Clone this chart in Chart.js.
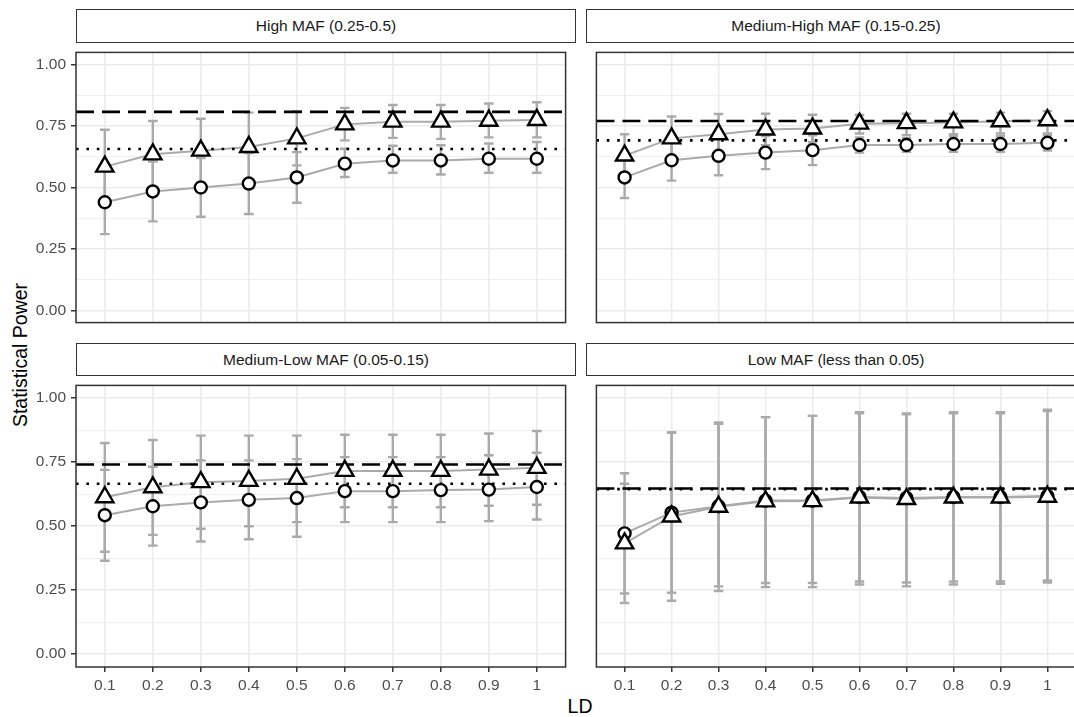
<!DOCTYPE html>
<html>
<head>
<meta charset="utf-8">
<script src="https://cdn.jsdelivr.net/npm/chart.js@4.4.1/dist/chart.umd.min.js"></script>
<style>
  body { margin: 0; width: 1074px; height: 717px; overflow: hidden; background: #fff;
         position: relative; font-family: "Liberation Sans", Arial, sans-serif; }
  canvas { position: absolute; }
  .strip { position: absolute; box-sizing: border-box; border: 1px solid #333; background: #fff;
           color: #1a1a1a; font-size: 15.5px; display: flex; align-items: center; justify-content: center; }
  .title { position: absolute; color: #000; font-size: 19.5px; white-space: nowrap; }
</style>
</head>
<body>
<div class="title" id="ytitle">Statistical Power</div>
<div class="title" id="xtitle">LD</div>
<script>
const ldLabels = ["0.1", "0.2", "0.3", "0.4", "0.5", "0.6", "0.7", "0.8", "0.9", "1"];
const yTicks = [0, 0.125, 0.25, 0.375, 0.5, 0.625, 0.75, 0.875, 1];

// High MAF (0.25-0.5)
const highTri      = [0.585, 0.635, 0.650, 0.665, 0.700, 0.757, 0.768, 0.768, 0.772, 0.775];
const highTriLow   = [0.435, 0.500, 0.520, 0.525, 0.590, 0.692, 0.702, 0.698, 0.704, 0.704];
const highTriHigh  = [0.735, 0.771, 0.780, 0.805, 0.811, 0.824, 0.836, 0.836, 0.842, 0.847];
const highCirc     = [0.440, 0.484, 0.500, 0.516, 0.541, 0.597, 0.610, 0.610, 0.617, 0.617];
const highCircLow  = [0.310, 0.362, 0.381, 0.392, 0.438, 0.543, 0.560, 0.553, 0.560, 0.560];
const highCircHigh = [0.570, 0.606, 0.620, 0.640, 0.644, 0.658, 0.670, 0.672, 0.679, 0.685];
const highRef = [0.808, 0.657]; // dashed, dotted

// Medium-High MAF (0.15-0.25)
const medHighTri      = [0.630, 0.700, 0.717, 0.736, 0.740, 0.760, 0.762, 0.765, 0.770, 0.774];
const medHighTriLow   = [0.543, 0.611, 0.635, 0.672, 0.684, 0.720, 0.713, 0.717, 0.720, 0.720];
const medHighTriHigh  = [0.717, 0.789, 0.799, 0.800, 0.796, 0.795, 0.800, 0.800, 0.805, 0.811];
const medHighCirc     = [0.541, 0.611, 0.629, 0.642, 0.652, 0.673, 0.673, 0.677, 0.677, 0.682];
const medHighCircLow  = [0.457, 0.528, 0.550, 0.575, 0.591, 0.642, 0.645, 0.645, 0.645, 0.650];
const medHighCircHigh = [0.625, 0.694, 0.708, 0.709, 0.713, 0.704, 0.701, 0.709, 0.709, 0.714];
const medHighRef = [0.771, 0.692];

// Medium-Low MAF (0.05-0.15)
const medLowTri      = [0.613, 0.652, 0.672, 0.677, 0.685, 0.716, 0.716, 0.716, 0.721, 0.728];
const medLowTriLow   = [0.400, 0.466, 0.490, 0.500, 0.516, 0.574, 0.574, 0.574, 0.580, 0.584];
const medLowTriHigh  = [0.825, 0.837, 0.854, 0.854, 0.854, 0.857, 0.857, 0.857, 0.862, 0.872];
const medLowCirc     = [0.543, 0.578, 0.593, 0.603, 0.610, 0.637, 0.637, 0.641, 0.643, 0.653];
const medLowCircLow  = [0.365, 0.424, 0.440, 0.449, 0.459, 0.516, 0.516, 0.516, 0.520, 0.526];
const medLowCircHigh = [0.720, 0.732, 0.757, 0.757, 0.762, 0.770, 0.770, 0.770, 0.777, 0.787];
const medLowRef = [0.741, 0.666];

// Low MAF (less than 0.05)
const lowTri      = [0.433, 0.538, 0.576, 0.597, 0.598, 0.612, 0.606, 0.612, 0.612, 0.615];
const lowTriLow   = [0.200, 0.209, 0.247, 0.262, 0.262, 0.272, 0.265, 0.272, 0.275, 0.280];
const lowTriHigh  = [0.666, 0.866, 0.900, 0.926, 0.931, 0.941, 0.937, 0.941, 0.941, 0.950];
const lowCirc     = [0.472, 0.553, 0.578, 0.600, 0.600, 0.614, 0.610, 0.614, 0.614, 0.618];
const lowCircLow  = [0.237, 0.240, 0.265, 0.278, 0.278, 0.284, 0.280, 0.284, 0.284, 0.288];
const lowCircHigh = [0.707, 0.866, 0.905, 0.926, 0.931, 0.945, 0.940, 0.945, 0.945, 0.955];
const lowRef = [0.647, 0.645];

const panels = [
  { title: "High MAF (0.25-0.5)", tri: [highTri, highTriLow, highTriHigh],
    circ: [highCirc, highCircLow, highCircHigh], ref: highRef },
  { title: "Medium-High MAF (0.15-0.25)", tri: [medHighTri, medHighTriLow, medHighTriHigh],
    circ: [medHighCirc, medHighCircLow, medHighCircHigh], ref: medHighRef },
  { title: "Medium-Low MAF (0.05-0.15)", tri: [medLowTri, medLowTriLow, medLowTriHigh],
    circ: [medLowCirc, medLowCircLow, medLowCircHigh], ref: medLowRef },
  { title: "Low MAF (less than 0.05)", tri: [lowTri, lowTriLow, lowTriHigh],
    circ: [lowCirc, lowCircLow, lowCircHigh], ref: lowRef }
];

// layout (page pixels)
const PAD = 2;
const plotW = 500;
const colLeft = [76, 586];
const rowTop = [42, 375];
const plotH = [291, 292];
const stripTop = [9, 343];
const xAxisH = 40;
const X_MIN = 0.4, X_MAX = 10.6, Y_MIN = -0.05, Y_MAX = 1.05;
const CAP = 0.1;

const GRAY = "#aaaaaa";

const panelFrame = {
  id: "panelFrame",
  afterDraw(chart) {
    const { ctx, chartArea: a } = chart;
    ctx.save();
    ctx.strokeStyle = "#333333";
    ctx.lineWidth = 1.5;
    ctx.strokeRect(a.left, a.top, a.right - a.left, a.bottom - a.top);
    ctx.restore();
  }
};

function seriesPoints(values) {
  return values.map((v, i) => ({ x: i + 1, y: v }));
}

function errorBarPoints(low, high) {
  const pts = [];
  low.forEach((lo, i) => {
    const x = i + 1, hi = high[i];
    pts.push({ x: x - CAP, y: hi }, { x: x + CAP, y: hi }, { x, y: null },
             { x, y: hi }, { x, y: lo }, { x, y: null },
             { x: x - CAP, y: lo }, { x: x + CAP, y: lo }, { x, y: null });
  });
  return pts;
}

function refLine(value, dash) {
  return {
    data: [{ x: X_MIN, y: value }, { x: X_MAX, y: value }],
    borderColor: "#000", borderWidth: 2.6, borderDash: dash, borderCapStyle: "butt",
    pointRadius: 0, fill: false
  };
}

function makePanel(p, idx) {
  const col = idx % 2, row = Math.floor(idx / 2);
  const isLeft = col === 0, isBottom = row === 1;

  const strip = document.createElement("div");
  strip.className = "strip";
  strip.textContent = p.title;
  Object.assign(strip.style, {
    left: colLeft[col] + "px", top: stripTop[row] + "px",
    width: plotW + "px", height: (rowTop[row] - stripTop[row] + 1) + "px"
  });
  document.body.appendChild(strip);

  const yW = isLeft ? colLeft[0] : 0;
  const canvas = document.createElement("canvas");
  const cLeft = isLeft ? 0 : colLeft[col] - PAD;
  const cTop = rowTop[row] - PAD;
  canvas.width = (isLeft ? yW : PAD) + plotW + PAD;
  canvas.height = PAD + plotH[row] + (isBottom ? xAxisH : PAD);
  canvas.style.left = cLeft + "px";
  canvas.style.top = cTop + "px";
  document.body.appendChild(canvas);

  new Chart(canvas.getContext("2d"), {
    type: "line",
    data: {
      datasets: [
        { data: seriesPoints(p.tri[0]), showLine: false, pointStyle: "triangle", pointRadius: 10,
          pointBorderWidth: 2.4, pointBorderColor: "#000", pointBackgroundColor: "#fff" },
        { data: seriesPoints(p.circ[0]), showLine: false, pointStyle: "circle", pointRadius: 6,
          pointBorderWidth: 2.4, pointBorderColor: "#000", pointBackgroundColor: "#fff" },
        refLine(p.ref[0], [18, 8]),
        refLine(p.ref[1], [2.6, 7.8]),
        { data: seriesPoints(p.tri[0]), borderColor: GRAY, borderWidth: 2, pointRadius: 0 },
        { data: seriesPoints(p.circ[0]), borderColor: GRAY, borderWidth: 2, pointRadius: 0 },
        { data: errorBarPoints(p.tri[1], p.tri[2]), borderColor: GRAY, borderWidth: 2.4,
          borderCapStyle: "butt", pointRadius: 0 },
        { data: errorBarPoints(p.circ[1], p.circ[2]), borderColor: GRAY, borderWidth: 2.4,
          borderCapStyle: "butt", pointRadius: 0 }
      ]
    },
    options: {
      responsive: false,
      animation: false,
      events: [],
      layout: { padding: { left: isLeft ? 0 : PAD, right: PAD, top: PAD, bottom: isBottom ? 0 : PAD } },
      plugins: { legend: { display: false }, tooltip: { enabled: false } },
      scales: {
        x: {
          type: "linear", min: X_MIN, max: X_MAX,
          afterBuildTicks: axis => { axis.ticks = ldLabels.map((_, i) => ({ value: i + 1 })); },
          afterFit: axis => { axis.height = isBottom ? xAxisH : 0; axis.paddingLeft = 0; axis.paddingRight = 0; },
          border: { display: false },
          grid: { color: "#ebebeb", lineWidth: 1.5, drawTicks: isBottom, tickLength: 5,
                  tickColor: "#333", tickWidth: 1.5 },
          ticks: { display: isBottom, maxRotation: 0, autoSkip: false, padding: 4, color: "#4d4d4d",
                   font: { family: "Liberation Sans", size: 15.5 },
                   callback: (v, i) => ldLabels[i] }
        },
        y: {
          min: Y_MIN, max: Y_MAX,
          afterBuildTicks: axis => { axis.ticks = yTicks.map(v => ({ value: v })); },
          afterFit: axis => { axis.width = yW; axis.paddingTop = 0; axis.paddingBottom = 0; },
          border: { display: false },
          grid: { color: "#ebebeb", drawTicks: isLeft, tickLength: 5, tickWidth: 1.5,
                  lineWidth: c => (c.tick && (c.tick.value * 4) % 1 === 0) ? 1.5 : 0.8,
                  tickColor: c => (c.tick && (c.tick.value * 4) % 1 === 0) ? "#333" : "rgba(0,0,0,0)" },
          ticks: { display: isLeft, autoSkip: false, padding: 5, color: "#4d4d4d",
                   font: { family: "Liberation Sans", size: 15.5 },
                   callback: v => ((v * 4) % 1 === 0 ? v.toFixed(2) : "") }
        }
      }
    },
    plugins: [panelFrame]
  });
}

panels.forEach(makePanel);

const yt = document.getElementById("ytitle");
yt.style.left = "20px";
yt.style.top = "355px";
yt.style.transform = "translate(-50%, -50%) rotate(-90deg)";
const xt = document.getElementById("xtitle");
xt.style.left = "580px";
xt.style.top = "706px";
xt.style.transform = "translate(-50%, -50%)";
</script>
</body>
</html>
